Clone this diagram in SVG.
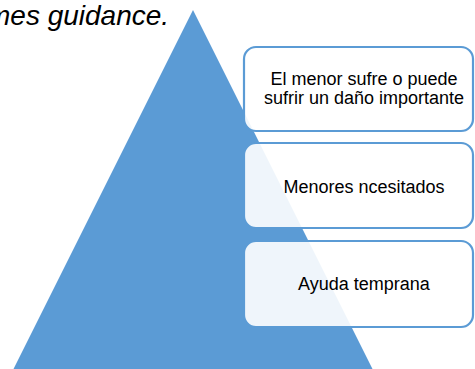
<svg xmlns="http://www.w3.org/2000/svg" width="475" height="369" viewBox="0 0 475 369">
<style>
.box{fill:#ffffff;fill-opacity:0.9;stroke:#5b9bd5;stroke-width:2.2}
.lbl{font-family:"Liberation Sans",Arial,sans-serif;font-size:18px;fill:#000;text-anchor:middle}
.cap{font-family:"Liberation Sans",Arial,sans-serif;font-size:28px;font-style:italic;fill:#000}
</style>
<rect width="475" height="369" fill="#ffffff"/>
<text class="cap" x="-13" y="25">mes guidance.</text>
<g id="pyramid">
<polygon points="193,10 376,376 10,376" fill="#5b9bd5"/>
</g>
<g id="connectors"></g>
<g id="node1">
<rect class="box" x="244" y="47" width="229" height="84" rx="12"/>
<text class="lbl" x="364" y="85">El menor sufre o puede</text>
<text class="lbl" x="364" y="104">sufrir un daño importante</text>
</g>
<g id="node2">
<rect class="box" x="244" y="143" width="229" height="85" rx="12"/>
<text class="lbl" x="364" y="193">Menores ncesitados</text>
</g>
<g id="node3">
<rect class="box" x="244" y="241" width="229" height="86" rx="12"/>
<text class="lbl" x="364" y="290">Ayuda temprana</text>
</g>
</svg>
